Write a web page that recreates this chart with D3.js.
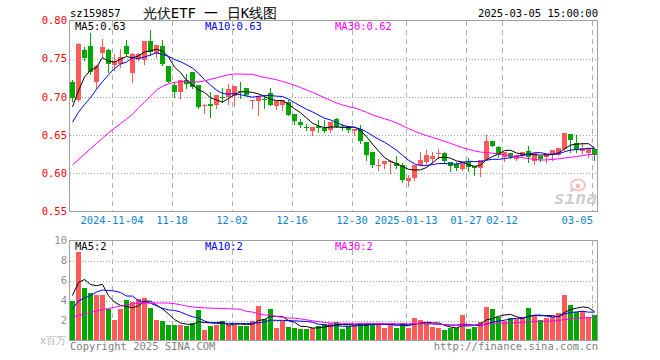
<!DOCTYPE html>
<html><head><meta charset="utf-8">
<script src="https://cdn.jsdelivr.net/npm/d3@7"></script>
<style>
body{margin:0;background:#fff}
svg{display:block}
text{font-family:"DejaVu Sans Mono","Liberation Mono",monospace}
</style>
</head><body>
<svg id="c" width="660" height="360"></svg>
<script>
// ---------------- data ----------------
const dates = ["2024-10-24","2024-10-25","2024-10-28","2024-10-29","2024-10-30","2024-10-31",
"2024-11-01","2024-11-04","2024-11-05","2024-11-06","2024-11-07","2024-11-08","2024-11-11","2024-11-12","2024-11-13","2024-11-14","2024-11-15","2024-11-18","2024-11-19","2024-11-20","2024-11-21","2024-11-22","2024-11-25","2024-11-26","2024-11-27","2024-11-28","2024-11-29",
"2024-12-02","2024-12-03","2024-12-04","2024-12-05","2024-12-06","2024-12-09","2024-12-10","2024-12-11","2024-12-12","2024-12-13","2024-12-16","2024-12-17","2024-12-18","2024-12-19","2024-12-20","2024-12-23","2024-12-24","2024-12-25","2024-12-26","2024-12-27","2024-12-30","2024-12-31",
"2025-01-02","2025-01-03","2025-01-06","2025-01-07","2025-01-08","2025-01-09","2025-01-10","2025-01-13","2025-01-14","2025-01-15","2025-01-16","2025-01-17","2025-01-20","2025-01-21","2025-01-22","2025-01-23","2025-01-24","2025-01-27",
"2025-02-05","2025-02-06","2025-02-07","2025-02-10","2025-02-11","2025-02-12","2025-02-13","2025-02-14","2025-02-17","2025-02-18","2025-02-19","2025-02-20","2025-02-21","2025-02-24","2025-02-25","2025-02-26","2025-02-27","2025-02-28",
"2025-03-03","2025-03-04","2025-03-05"];

const opens = [0.7195,0.6956,0.762,0.766,0.7195,0.7574,0.762,0.7413,0.7434,0.7665,
0.7317,0.750,0.7487,0.773,0.7565,0.767,0.740,0.715,0.7064,0.7225,
0.7325,0.716,0.6875,0.691,0.689,0.7002,0.7008,0.701,0.7075,0.7117,
0.6952,0.6947,0.6972,0.705,0.688,0.689,0.6935,0.677,0.6673,0.661,
0.6555,0.6616,0.6594,0.6564,0.6716,0.6607,0.6616,0.6564,0.6576,0.6415,
0.6276,0.611,0.6124,0.6154,0.6132,0.611,0.5893,0.5937,0.611,0.6154,
0.6184,0.6254,0.6271,0.6154,0.6124,0.6067,0.6145,0.609,0.6067,0.6176,
0.6424,0.635,0.621,0.6263,0.6184,0.6228,0.6298,0.6154,0.6228,0.621,
0.6241,0.6241,0.6315,0.6515,0.6402,0.6284,0.6271,0.6315];
const highs = [0.722,0.7704,0.765,0.7835,0.742,0.776,0.763,0.7565,0.763,0.774,
0.757,0.758,0.773,0.788,0.7674,0.774,0.741,0.7195,0.7225,0.730,
0.7325,0.716,0.691,0.7065,0.702,0.711,0.717,0.7138,0.7195,0.7117,
0.6965,0.7008,0.702,0.711,0.6943,0.6956,0.6956,0.677,0.6716,0.665,
0.661,0.6695,0.6695,0.6673,0.672,0.665,0.6625,0.6586,0.6633,0.6415,
0.628,0.6184,0.6163,0.6176,0.6228,0.6132,0.598,0.611,0.6285,0.6306,
0.6285,0.6315,0.6285,0.6154,0.6154,0.6154,0.6198,0.609,0.6176,0.6502,
0.6424,0.6359,0.6285,0.6263,0.6241,0.6284,0.6358,0.6263,0.6228,0.6254,
0.6306,0.6328,0.6524,0.6515,0.6502,0.6393,0.6337,0.6328];
const lows = [0.694,0.694,0.748,0.730,0.712,0.752,0.733,0.735,0.739,0.755,
0.7195,0.748,0.7435,0.7543,0.752,0.742,0.719,0.700,0.699,0.711,
0.711,0.686,0.679,0.674,0.686,0.693,0.691,0.688,0.699,0.701,
0.686,0.676,0.686,0.689,0.6847,0.6825,0.676,0.665,0.660,0.6565,
0.650,0.6542,0.6542,0.6542,0.6605,0.6565,0.654,0.650,0.6393,0.6176,
0.6076,0.6045,0.6067,0.600,0.6067,0.589,0.5836,0.5915,0.611,0.6124,
0.6132,0.6198,0.6132,0.6024,0.6045,0.6045,0.6024,0.598,0.5967,0.6176,
0.6355,0.6219,0.6167,0.6195,0.6176,0.622,0.6154,0.6124,0.6167,0.6154,
0.6176,0.6241,0.6306,0.6285,0.6285,0.6263,0.6219,0.6176];
const closes = [0.699,0.7687,0.752,0.7325,0.740,0.765,0.7434,0.747,0.752,0.7565,
0.7565,0.7565,0.773,0.7587,0.7674,0.7434,0.7195,0.7064,0.7225,0.7173,
0.713,0.6877,0.689,0.688,0.702,0.6995,0.7108,0.7138,0.707,0.702,
0.696,0.7008,0.6965,0.689,0.6943,0.6956,0.676,0.6673,0.663,0.6605,
0.661,0.6586,0.655,0.6673,0.661,0.660,0.6564,0.6586,0.6415,0.6241,
0.6102,0.6115,0.6163,0.616,0.6089,0.5915,0.5937,0.611,0.6176,0.6241,
0.6228,0.626,0.6163,0.6097,0.6067,0.6154,0.6076,0.606,0.6176,0.6428,
0.6359,0.6241,0.6276,0.621,0.6241,0.6284,0.622,0.6263,0.6184,0.6254,
0.6306,0.6328,0.6524,0.6437,0.6315,0.6328,0.6337,0.6241];
const volumes = [3.95,8.8,5.3,4.8,4.57,4.57,3.17,2.07,3.17,4.07,
3.9,4.14,4.3,3.3,2.07,2.0,1.57,1.57,1.57,1.5,
1.73,3.07,1.07,1.47,1.57,2.0,1.57,1.57,1.47,1.47,
2.0,3.45,2.14,3.17,1.3,1.97,1.37,1.3,1.17,1.17,
1.24,1.47,1.67,1.74,1.9,1.17,1.47,1.54,1.74,1.74,
1.67,1.67,1.3,1.74,1.3,1.74,1.3,2.3,2.07,1.74,
1.4,1.3,1.07,1.24,1.24,2.57,1.17,1.37,1.9,3.34,
3.17,2.34,2.0,2.24,2.17,2.4,3.27,2.47,2.07,2.27,
2.34,2.77,4.57,3.57,2.9,3.0,2.37,2.57];

const pMa5Head = [0.687,0.708,0.726,0.735];
const pMa10Head = [0.667,0.680,0.690,0.699,0.710,0.720,0.729,0.737,0.743];
const pMa30Head = [0.611,0.618,0.625,0.632,0.639,0.646,0.653,0.659,0.665,0.671,
0.677,0.686,0.693,0.701,0.709,0.714,0.717,0.719,0.720,0.720,
0.720,0.7195,0.721,0.723,0.725,0.727,0.729,0.730,0.730];
const vMa5Head = [4.5,5.8,6.1,5.6];
const vMa10Head = [3.14,3.95,4.25,4.5,4.85,5.05,5.0,4.95,4.8];
const vMa30Head = [2.34,2.5,2.65,2.8,2.95,3.1,3.2,3.32,3.45,3.55,
3.68,3.74,3.75,3.75,3.75,3.75,3.74,3.68,3.58,3.45,
3.36,3.3,3.26,3.24,3.22,3.2,3.18,3.15,3.12];

const tickDates = ["2024-11-04","2024-11-18","2024-12-02","2024-12-16","2024-12-30","2025-01-13","2025-01-27","2025-02-12","2025-03-05"];
const tickLabels = ["2024-11-04","11-18","12-02","12-16","12-30","2025-01-13","01-27","02-12","03-05"];
const priceTicks = [0.55,0.60,0.65,0.70,0.75,0.80];
const volTicks = [2,4,6,8,10];
const priceLegend = ["MA5:0.63","MA10:0.63","MA30:0.62"];
const volLegend = ["MA5:2","MA10:2","MA30:2"];
const maColors = ["#000000","#0000ff","#ff00ff"];

// ---------------- drawing ----------------
const RED = "#ff5a5a", GREEN = "#00a800";
const svg = d3.select("#c");
const L = 70, R = 598;
const x = d3.scaleBand().domain(d3.range(dates.length)).range([L, R]).paddingInner(0).paddingOuter(0);
const bw = 5;
const cx = i => x(i) + 2.5;
const yP = d3.scaleLinear().domain([0.55, 0.80]).range([211.5, 20.5]);
const yV = d3.scaleLinear().domain([0, 10]).range([340.5, 240.5]);

function ma(arr, n, head) {
  return arr.map((v, i) => i < n - 1 ? head[i] : d3.mean(arr.slice(i - n + 1, i + 1)));
}
const pMa = [ma(closes,5,pMa5Head), ma(closes,10,pMa10Head), ma(closes,30,pMa30Head)];
const vMa = [ma(volumes,5,vMa5Head), ma(volumes,10,vMa10Head), ma(volumes,30,vMa30Head)];

const tickIdx = tickDates.map(d => dates.indexOf(d));

function panel(y, ticks, top, bottom, legend, legendY) {
  const g = svg.append("g");
  // horizontal dotted grid
  g.selectAll("line.h").data(ticks.slice(1, -1)).join("line")
    .attr("x1", L).attr("x2", R - 1)
    .attr("y1", d => Math.round(y(d)) + 0.5).attr("y2", d => Math.round(y(d)) + 0.5)
    .attr("stroke", "#a0a0a0").attr("stroke-dasharray", "1,2").attr("shape-rendering", "crispEdges");
  // vertical dashed grid
  g.selectAll("line.v").data(tickIdx).join("line")
    .attr("x1", d => x(d) + 0.5).attr("x2", d => x(d) + 0.5)
    .attr("y1", top).attr("y2", bottom)
    .attr("stroke", "#b0b0b0").attr("stroke-dasharray", "5,4").attr("shape-rendering", "crispEdges");
  // frame
  g.append("rect").attr("x", L - 0.5).attr("y", top - 0.5)
    .attr("width", R - L).attr("height", bottom - top + 1)
    .attr("fill", "none").attr("stroke", "#a0a0a0").attr("shape-rendering", "crispEdges");
  return g;
}

// price panel
panel(yP, priceTicks, 21, 211, priceLegend, 30);
panel(yV, [0].concat(volTicks), 241, 340, volLegend, 250);

// watermark
const wm = svg.append("g");
wm.append("ellipse").attr("cx", 578).attr("cy", 185).attr("rx", 7).attr("ry", 5.5)
  .attr("fill", "none").attr("stroke", "#f4c4c4").attr("stroke-width", 2);
wm.append("circle").attr("cx", 578).attr("cy", 186).attr("r", 2.2).attr("fill", "#f2b8b8");
wm.append("text").attr("x", 597).attr("y", 204).attr("text-anchor", "end")
  .attr("font-family", "Liberation Sans, Arial, sans-serif").attr("font-weight", "bold").attr("font-style", "italic")
  .attr("font-size", 18).attr("fill", "#cfcfcf").text("sina");

// candles
const cg = svg.append("g");
const idx = d3.range(dates.length);
const up = i => closes[i] >= opens[i];
cg.selectAll("line.w").data(idx).join("line")
  .attr("x1", i => cx(i)).attr("x2", i => cx(i))
  .attr("y1", i => Math.round(yP(highs[i]))).attr("y2", i => Math.round(yP(lows[i])) + 1)
  .attr("stroke", i => up(i) ? RED : GREEN).attr("shape-rendering", "crispEdges");
cg.selectAll("rect.b").data(idx).join("rect")
  .attr("x", i => x(i)).attr("width", bw)
  .attr("y", i => Math.round(yP(Math.max(opens[i], closes[i]))))
  .attr("height", i => Math.max(1, Math.round(Math.abs(yP(opens[i]) - yP(closes[i])))))
  .attr("fill", i => up(i) ? RED : GREEN).attr("shape-rendering", "crispEdges");

// volume bars
svg.append("g").selectAll("rect").data(idx).join("rect")
  .attr("x", i => x(i)).attr("width", bw)
  .attr("y", i => Math.round(yV(volumes[i])))
  .attr("height", i => 340 - Math.round(yV(volumes[i])))
  .attr("fill", i => up(i) ? RED : GREEN).attr("shape-rendering", "crispEdges");

// MA lines
const lineP = d3.line().x((d, i) => cx(i)).y(d => yP(d));
const lineV = d3.line().x((d, i) => cx(i)).y(d => yV(d));
pMa.forEach((s, k) => svg.append("path").attr("d", lineP(s)).attr("fill", "none")
  .attr("stroke", maColors[k]).attr("stroke-width", 1));
vMa.forEach((s, k) => svg.append("path").attr("d", lineV(s)).attr("fill", "none")
  .attr("stroke", maColors[k]).attr("stroke-width", 1));

// legends
const legX = [75, 205, 335];
priceLegend.forEach((t, k) => svg.append("text").attr("x", legX[k]).attr("y", 30)
  .attr("font-size", 10.5).attr("fill", maColors[k]).text(t));
volLegend.forEach((t, k) => svg.append("text").attr("x", legX[k]).attr("y", 250)
  .attr("font-size", 10.5).attr("fill", maColors[k]).text(t));

// axes labels
svg.append("g").selectAll("text").data(priceTicks).join("text")
  .attr("x", 67).attr("y", d => yP(d)).attr("dy", "0.35em").attr("text-anchor", "end")
  .attr("font-size", 10.5).attr("fill", "#ff0000").text(d => d3.format(".2f")(d));
svg.append("g").selectAll("text").data(volTicks).join("text")
  .attr("x", 67).attr("y", d => yV(d)).attr("dy", "0.35em").attr("text-anchor", "end")
  .attr("font-size", 10.5).attr("fill", "#909090").text(d => d);
svg.append("text").attr("x", 66).attr("y", 344).attr("text-anchor", "end")
  .attr("font-family", "Noto Sans CJK SC, sans-serif").attr("font-size", 10).attr("fill", "#b0b0b0").text("x百万");

svg.append("g").selectAll("text").data(tickIdx).join("text")
  .attr("x", (d, k) => k === tickIdx.length - 1 ? x(d) + 1 : x(d))
  .attr("y", 224)
  .attr("text-anchor", (d, k) => k === tickIdx.length - 1 ? "end" : "middle")
  .attr("font-size", 10.5).attr("fill", "#0a84d4").text((d, k) => tickLabels[k]);

// header
svg.append("text").attr("x", 70).attr("y", 17).attr("font-size", 10.5).attr("fill", "#000").text("sz159857");
svg.append("text").attr("x", 210).attr("y", 18).attr("text-anchor", "middle")
  .attr("font-family", "Noto Sans CJK SC, sans-serif").attr("font-size", 14).attr("fill", "#000").text("光伏ETF 一 日K线图");
svg.append("text").attr("x", 598).attr("y", 17).attr("text-anchor", "end").attr("font-size", 10.5).attr("fill", "#000").text("2025-03-05 15:00:00");

// footer
svg.append("text").attr("x", 70).attr("y", 350).attr("font-size", 10.5).attr("fill", "#808080").text("Copyright 2025 SINA.COM");
svg.append("text").attr("x", 598).attr("y", 350).attr("text-anchor", "end").attr("font-size", 10.5).attr("fill", "#808080").text("http://finance.sina.com.cn");
</script>
</body></html>
